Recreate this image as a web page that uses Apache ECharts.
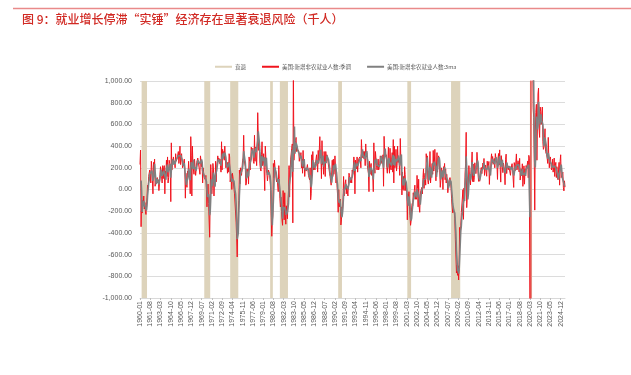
<!DOCTYPE html>
<html>
<head>
<meta charset="utf-8">
<script src="https://cdn.jsdelivr.net/npm/echarts@6/dist/echarts.min.js"></script>
<style>html,body{margin:0;padding:0;background:#fff}#c{width:631px;height:375px}</style>
</head>
<body>
<div id="c"></div>
<script>
// Monthly change in US nonfarm payrolls, thousands, SA
const nfp1960s = [
  230, 364, -343, -60, -217, -100, -150, -60, -180, -120, -200, -230,
  -150, -70, 40, 10, 120, 130, 180, 150, 60, 260, 200, 80,
  -40, 250, 180, 280, 30, 20, 100, 80, 110, 60, 90, -10,
  50, 140, 210, 200, 120, 60, 220, 100, 200, 220, -40, 170,
  140, 270, 120, 300, 60, 110, 270, 240, 200, -112, 430, 180,
  230, 270, 300, 240, 260, 200, 330, 260, 260, 290, 300, 350,
  240, 300, 400, 230, 300, 330, 250, 200, 200, 250, 280, 180,
  -80, 150, 60, 20, 170, 140, 260, 160, 140, -40, 487, 310,
  -60, 400, 220, 210, 140, 280, 210, 130, 180, 250, 270, 290,
  280, 290, 280, 140, 310, 310, 210, 250, 60, 200, 150, 110
];
const nfp1970s = [
  120, 90, 130, 0, -160, -50, 50, -130, -140, -440, -40, 230,
  90, -40, 40, 240, 190, -60, 100, 40, 260, 70, 200, 250,
  310, 270, 290, 240, 280, 220, 160, 440, 180, 370, 300, 350,
  270, 400, 290, 200, 210, 250, 150, 250, 160, 330, 300, 70,
  70, 140, 0, 150, 120, 60, 50, -40, -40, -40, -300, -450,
  -622, -330, -250, -100, 180, 50, 200, 170, 130, 200, 270, 290,
  500, 270, 260, 210, 40, 60, 190, 120, 190, 50, 300, 260,
  180, 270, 390, 360, 370, 380, 260, 240, 500, 260, 390, 380,
  220, 400, 708, 500, 360, 440, 240, 190, 170, 320, 440, 220,
  240, 330, 320, -10, 400, 300, 180, 150, 80, 130, 180, 160
];
const nfp1980s = [
  130, 80, -10, -260, -431, -300, -240, 240, 110, 270, 200, 180,
  100, 70, 100, 90, -20, 220, 100, -80, -160, -70, -200, -280,
  -330, -10, -140, -280, -30, -230, -320, -150, -200, -270, -120, -10,
  220, -70, 160, 280, 290, 380, 420, -308, 1114, 270, 360, 360,
  450, 480, 350, 360, 370, 380, 350, 260, 310, 290, 340, 200,
  280, 150, 360, 200, 280, 120, 200, 210, 170, 200, 230, 180,
  130, 110, 90, 200, -95, -40, 320, 140, 350, 180, 220, 200,
  180, 240, 250, 320, 240, 160, 360, 240, 230, 487, 290, 320,
  100, 450, 230, 260, 140, 350, 240, 120, 350, 270, 320, 300,
  260, 270, 190, 150, 120, 110, 40, 40, 270, 120, 280, 140
];
const nfp1990s = [
  190, 310, 210, 60, 160, 20, -60, -210, 0, -160, -130, -90,
  -327, -280, -160, -210, -70, 120, -60, 0, 60, 90, -40, 30,
  40, -60, 60, 150, 130, 60, 80, 110, 60, 180, 140, 200,
  300, 250, -40, 270, 260, 190, 300, 160, 240, 280, 270, 300,
  280, 200, 460, 340, 310, 290, 350, 280, 350, 220, 420, 300,
  340, 220, 220, 150, -20, 260, 140, 210, 240, 130, 160, 140,
  -20, 430, 240, 150, 350, 280, 220, 180, 230, 280, 180, 170,
  240, 310, 320, 300, 240, 250, 320, 30, 490, 340, 300, 310,
  320, 200, 150, 260, 390, 220, 150, 380, 200, 180, 280, 340,
  160, 460, 60, 400, 200, 240, 370, 170, 220, 400, 250, 290
];
const nfp2000s = [
  240, 130, 470, 280, 220, -50, 160, 0, 120, -10, 210, 140,
  -10, 70, -30, -280, -40, -130, -20, -160, -240, -330, -290, -170,
  -130, -150, -30, -90, -10, 40, -90, -40, -90, 130, 10, -160,
  95, -160, -210, -50, -10, -20, 20, -40, 110, 190, 10, 110,
  150, 40, 330, 250, 310, 80, 50, 120, 160, 350, 60, 130,
  140, 240, 140, 360, 170, 240, 370, 190, 80, 80, 340, 160,
  280, 310, 300, 180, 20, 80, 200, 180, 150, 0, 210, 170,
  240, 90, 190, 60, 140, 80, -30, -20, 80, 80, 110, 90,
  10, -85, -79, -215, -186, -169, -216, -270, -459, -473, -770, -695,
  -791, -703, -834, -687, -349, -470, -329, -213, -220, -204, -2, -275
];
const nfp2010s = [
  14, -59, 153, 241, 527, -167, -58, -51, -27, 220, 121, 88,
  42, 188, 225, 346, 73, 235, 70, 107, 246, 202, 146, 205,
  343, 259, 143, 75, 103, 76, 143, 177, 203, 146, 132, 244,
  211, 286, 130, 197, 226, 162, 122, 261, 190, 212, 258, 47,
  190, 151, 272, 329, 246, 304, 232, 218, 286, 200, 331, 292,
  267, 237, 93, 287, 332, 226, 365, 197, 68, 312, 257, 253,
  155, 243, 236, 176, 44, 279, 326, 147, 239, 220, 182, 216,
  219, 201, 131, 191, 186, 238, 186, 177, 19, 248, 219, 174,
  162, 328, 180, 196, 265, 232, 162, 287, 87, 99, 190, 144,
  237, 29, 127, 218, 49, 189, 140, 221, 192, 205, 263, 108
];
const nfp2020s = [
  315, 289, -1373, -20477, 2790, 4601, 1609, 1503, 755, 664, 282, -190,
  520, 710, 785, 270, 610, 880, 935, 560, 480, 760, 720, 600,
  590, 760, 440, 370, 390, 480, 560, 350, 340, 320, 290, 240,
  480, 290, 200, 280, 300, 230, 180, 200, 280, 160, 200, 290,
  120, 220, 250, 110, 210, 110, 90, 80, 250, 40, 260, 320,
  110, 100, 120, 160, 20, -13, 80, 22
];
// Months where the 3ma line is not drawn in the reference
const ma3Gaps = ['2020-04', '2020-05', '2020-06'];
// Recession periods (shaded)
const recessions = [
  ['1960-04', '1961-02'], ['1969-12', '1970-11'], ['1973-12', '1975-03'],
  ['1980-02', '1980-07'], ['1981-08', '1982-11'], ['1990-08', '1991-03'],
  ['2001-04', '2001-11'], ['2008-01', '2009-06'], ['2020-03', '2020-07']
];
const startYear = 1960, endYear = 2025, endMonth = 8;
const seriesNames = ['衰退', '美国:新增非农就业人数:季调', '美国:新增非农就业人数:3ma'];
const titleText = '图 9：就业增长停滞“实锤”经济存在显著衰退风险（千人）';

const monthly = [].concat(nfp1960s, nfp1970s, nfp1980s, nfp1990s, nfp2000s, nfp2010s, nfp2020s);
const categories = [];
for (let y = startYear; y <= endYear; y++) {
  for (let m = 1; m <= 12; m++) {
    if (y === endYear && m > endMonth) break;
    categories.push(y + '-' + (m < 10 ? '0' + m : m));
  }
}
const ma3 = monthly.map((v, i) => (i < 2 || ma3Gaps.includes(categories[i])) ? '-' :
  +((monthly[i] + monthly[i - 1] + monthly[i - 2]) / 3).toFixed(1));

const chart = echarts.init(document.getElementById('c'), null, {renderer: 'canvas'});
const axisTxt = '#595959';
chart.setOption({
  animation: false,
  backgroundColor: '#fff',
  textStyle: {fontFamily: 'Liberation Sans, Arial, sans-serif'},
  graphic: [
    {type: 'line', shape: {x1: 13, y1: 8.5, x2: 631, y2: 8.5}, style: {stroke: '#E98A8A', lineWidth: 1.5}},
    {type: 'text', left: 22, top: 13, style: {text: titleText, fill: '#D12A24', font: '500 12px "Noto Sans CJK SC"'}}
  ],
  legend: {
    left: 210, top: 59, icon: 'rect', itemWidth: 17, itemHeight: 2, itemGap: 16,
    data: seriesNames,
    textStyle: {fontSize: 5.5, color: axisTxt, fontFamily: 'Noto Sans CJK SC', padding: [0, 0, 0, -2]}
  },
  grid: {left: 140, right: 66, top: 81, bottom: 77, containLabel: false},
  xAxis: [{
    type: 'category', data: categories, boundaryGap: false,
    axisLine: {show: false}, axisTick: {show: false}, splitLine: {show: false},
    axisLabel: {interval: 18, rotate: 90, fontSize: 7, color: axisTxt, margin: 3}
  }, {
    type: 'category', data: categories, boundaryGap: false, position: 'bottom',
    axisLine: {show: true, onZero: true, lineStyle: {color: '#D9D9D9'}},
    axisTick: {show: true, interval: 18, length: 2, lineStyle: {color: '#BFBFBF'}},
    axisLabel: {show: false}, splitLine: {show: false}
  }],
  yAxis: {
    type: 'value', min: -1000, max: 1000, interval: 200,
    axisLine: {show: false}, axisTick: {show: false},
    splitLine: {lineStyle: {color: '#DCDCDC', width: 1}},
    axisLabel: {fontSize: 7, color: axisTxt, margin: 8,
      formatter: v => v.toLocaleString('en-US', {minimumFractionDigits: 2, maximumFractionDigits: 2})}
  },
  series: [{
    name: seriesNames[0], type: 'line', data: [], color: '#DDD3BB',
    lineStyle: {color: '#DDD3BB'},
    markArea: {silent: true, itemStyle: {color: '#DDD3BB'},
      data: recessions.map(r => [{xAxis: r[0]}, {xAxis: r[1]}])}
  }, {
    name: seriesNames[1], type: 'line', data: monthly, color: '#F0141E',
    symbol: 'none', lineStyle: {width: 1, color: '#F0141E'}, clip: true
  }, {
    name: seriesNames[2], type: 'line', data: ma3, color: '#808080',
    symbol: 'none', lineStyle: {width: 1.6, color: '#808080'}, clip: true
  }]
});
</script>
</body>
</html>
